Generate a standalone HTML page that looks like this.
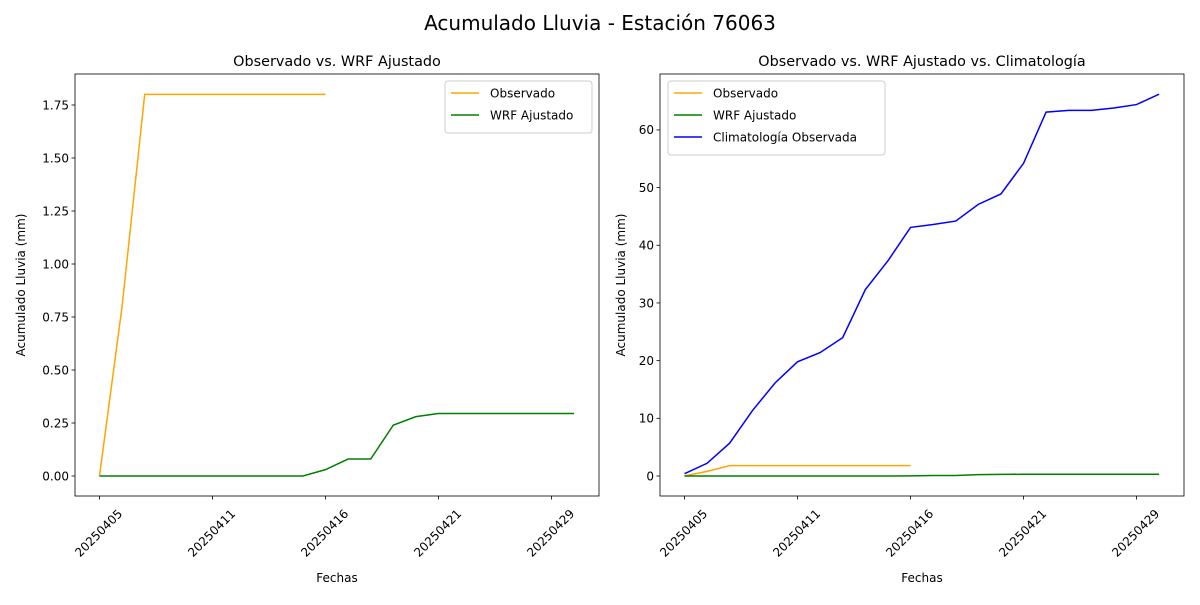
<!DOCTYPE html>
<html><head><meta charset="utf-8"><style>
body{margin:0;background:#fff}
svg text{font-family:"DejaVu Sans","Liberation Sans",sans-serif;fill:#000}
</style></head><body>
<svg id="c" width="1200" height="600" xmlns="http://www.w3.org/2000/svg">
<text x="600" y="30" font-size="20" text-anchor="middle">Acumulado Lluvia - Estación 76063</text>
</svg>
<script>
const categories=["20250405","20250406","20250407","20250408","20250409","20250411","20250412","20250413","20250414","20250415","20250416","20250417","20250418","20250419","20250420","20250421","20250422","20250424","20250425","20250427","20250429","20250430"];
const tickIdx=[0,5,10,15,20];
const observado=[0,0.8,1.8,1.8,1.8,1.8,1.8,1.8,1.8,1.8,1.8];
const wrf=[0,0,0,0,0,0,0,0,0,0,0.03,0.08,0.08,0.24,0.28,0.295,0.295,0.295,0.295,0.295,0.295,0.295];
const clima=[0.4,2.2,5.7,11.3,16.1,19.8,21.4,24,32.3,37.3,43.1,43.6,44.2,47.1,48.9,54.2,63.1,63.4,63.4,63.8,64.4,66.2];
const leftYTicks=[0,0.25,0.5,0.75,1.0,1.25,1.5,1.75];
const leftYLabels=["0.00","0.25","0.50","0.75","1.00","1.25","1.50","1.75"];
const rightYTicks=[0,10,20,30,40,50,60];
const svg=document.getElementById('c');
const NS="http://www.w3.org/2000/svg";
function mk(t,a,p){const e=document.createElementNS(NS,t);for(const k in a)e.setAttribute(k,a[k]);(p||svg).appendChild(e);return e;}
function panel(px,name,title,ymin,ymax,yt,yl,series,legend,ytx){
  const L=px,R=px+524,T=74,B=496;
  const xs=i=>L+24.5+i*22.6;
  const ys=v=>B-(v-ymin)/(ymax-ymin)*(B-T);
  const g=mk('g',{});
  
  
  const tt=mk('text',{x:(L+R)/2,y:66,'font-size':14.4,'text-anchor':'middle'},g);tt.textContent=title;
  
  series.forEach(s=>{
    const pl=mk('polyline',{points:s.v.map((v,i)=>xs(i)+','+ys(v)).join(' '),fill:'none',stroke:s.c,'stroke-width':1.5},g);
    
    
  });
  const fr=mk('rect',{x:L,y:T,width:R-L,height:B-T,fill:'none',stroke:'#000','stroke-width':0.8},g);
  
  tickIdx.forEach(i=>{
    const x=xs(i);mk('line',{x1:x,x2:x,y1:B,y2:B+3.5,stroke:'#000','stroke-width':0.8},g);
    const cx=x-1,cy=B+37;
    const t=mk('text',{x:cx,y:cy+4.3,'font-size':12,'text-anchor':'middle',transform:`rotate(-45 ${cx} ${cy})`},g);
    t.textContent=categories[i];
    
  });
  yt.forEach((v,k)=>{
    const y=ys(v);mk('line',{x1:L-3.5,x2:L,y1:y,y2:y,stroke:'#000','stroke-width':0.8},g);
    const t=mk('text',{x:L-6,y:y+4.3,'font-size':12,'text-anchor':'end'},g);t.textContent=yl[k];
    
  });
  const xl=mk('text',{x:(L+R)/2,y:582,'font-size':12,'text-anchor':'middle'},g);xl.textContent='Fechas';
  
  const yx=ytx,yy=(T+B)/2;
  const ya=mk('text',{x:yx,y:yy,'font-size':12,'text-anchor':'middle',transform:`rotate(-90 ${yx} ${yy})`},g);ya.textContent='Acumulado Lluvia (mm)';
  
  const lg=mk('g',{},g);
  mk('rect',{x:legend.x,y:81,width:legend.w,height:8+22*series.length,fill:'#fff','fill-opacity':0.8,stroke:'#ccc',rx:3},lg);
  series.forEach((s,i)=>{
    const y=93+22*i;
    mk('line',{x1:legend.x+6,x2:legend.x+34,y1:y,y2:y,stroke:s.c,'stroke-width':1.5},lg);
    const t=mk('text',{x:legend.x+45,y:y+4.5,'font-size':12},lg);t.textContent=s.label;
    
  });
}
panel(75,'left-chart','Observado vs. WRF Ajustado',-0.0943,1.8962,leftYTicks,leftYLabels,
 [{n:'observado',v:observado,c:'orange',label:'Observado'},{n:'wrf',v:wrf,c:'green',label:'WRF Ajustado'}],{x:445,w:147},25);
panel(660,'right-chart','Observado vs. WRF Ajustado vs. Climatología',-3.47,69.7,rightYTicks,rightYTicks.map(String),
 [{n:'observado',v:observado,c:'orange',label:'Observado'},{n:'wrf',v:wrf,c:'green',label:'WRF Ajustado'},{n:'climatologia',v:clima,c:'blue',label:'Climatología Observada'}],{x:668,w:217},625);
</script>
</body></html>
